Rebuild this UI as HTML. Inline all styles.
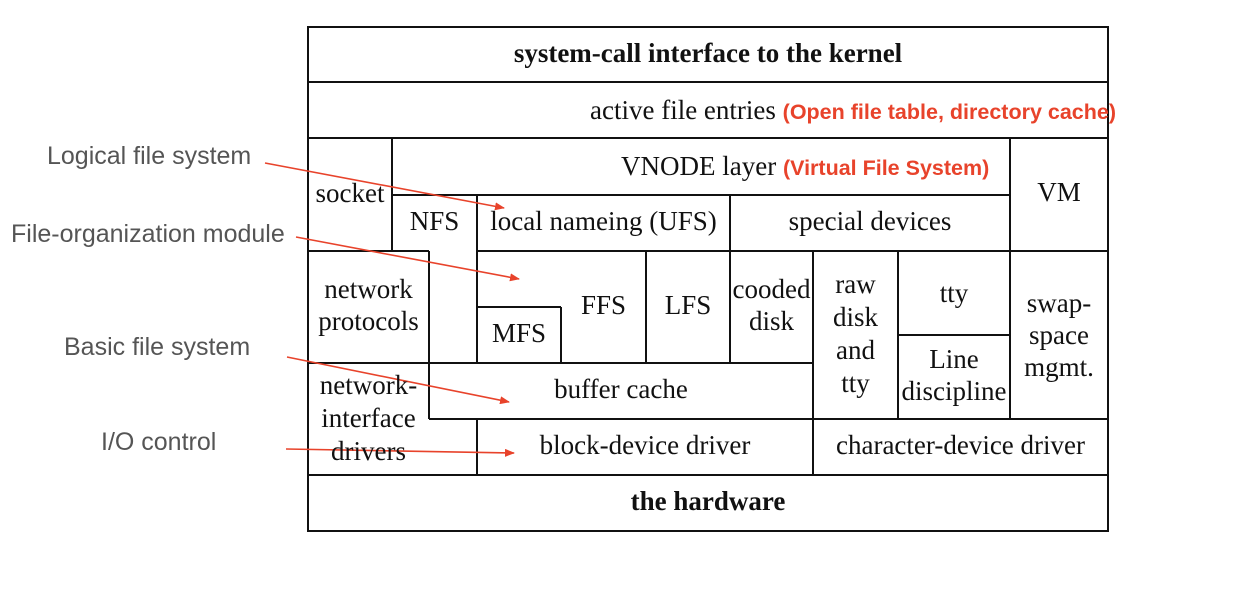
<!DOCTYPE html>
<html><head><style>
body{margin:0;width:1246px;height:596px;background:#fff;overflow:hidden;position:relative}
.t{position:absolute;font-family:"Liberation Serif",serif;font-size:27px;color:#111;text-align:center;line-height:32px;white-space:nowrap}
.l{position:absolute;font-family:"Liberation Sans",sans-serif;font-size:25px;color:#555;white-space:nowrap}
.r{font-family:"Liberation Sans",sans-serif;font-weight:bold;color:#e8432b;font-size:21.5px}
</style></head><body>
<svg width="1246" height="596" style="position:absolute;left:0;top:0">
<g stroke="#111" stroke-width="2" fill="none">
<rect x="308" y="27" width="800" height="504"/>
<line x1="308" y1="82" x2="1108" y2="82"/>
<line x1="308" y1="138" x2="1108" y2="138"/>
<line x1="392" y1="195" x2="1010" y2="195"/>
<line x1="392" y1="138" x2="392" y2="251"/>
<line x1="1010" y1="138" x2="1010" y2="419"/>
<line x1="308" y1="251" x2="429" y2="251"/>
<line x1="477" y1="251" x2="1108" y2="251"/>
<line x1="477" y1="195" x2="477" y2="363"/>
<line x1="730" y1="195" x2="730" y2="363"/>
<line x1="429" y1="251" x2="429" y2="419"/>
<line x1="308" y1="363" x2="429" y2="363"/>
<line x1="429" y1="363" x2="813" y2="363"/>
<line x1="429" y1="419" x2="1108" y2="419"/>
<line x1="477" y1="307" x2="561" y2="307"/>
<line x1="561" y1="307" x2="561" y2="363"/>
<line x1="646" y1="251" x2="646" y2="363"/>
<line x1="813" y1="251" x2="813" y2="475"/>
<line x1="898" y1="251" x2="898" y2="419"/>
<line x1="898" y1="335" x2="1010" y2="335"/>
<line x1="477" y1="419" x2="477" y2="475"/>
<line x1="308" y1="475" x2="1108" y2="475"/>
</g>
<defs><marker id="a" markerWidth="10" markerHeight="8" refX="9" refY="4" orient="auto" markerUnits="userSpaceOnUse"><path d="M0,0L10,4L0,8z" fill="#e8432b"/></marker></defs>
<g stroke="#e8432b" stroke-width="1.6" marker-end="url(#a)">
<line x1="265" y1="163" x2="504" y2="208"/>
<line x1="296" y1="237" x2="519" y2="279"/>
<line x1="287" y1="357" x2="509" y2="402"/>
<line x1="286" y1="449" x2="514" y2="453"/>
</g>
</svg>
<div class="t" style="left:308px;top:37px;width:800px;font-weight:bold">system-call interface to the kernel</div>
<div class="t" style="left:590px;top:94px">active file entries <span class="r">(Open file table, directory cache)</span></div>
<div class="t" style="left:621px;top:150px">VNODE layer <span class="r">(Virtual File System)</span></div>
<div class="t" style="left:308px;top:177px;width:84px">socket</div>
<div class="t" style="left:392px;top:205px;width:85px">NFS</div>
<div class="t" style="left:477px;top:205px;width:253px">local nameing (UFS)</div>
<div class="t" style="left:730px;top:205px;width:280px">special devices</div>
<div class="t" style="left:1010px;top:176px;width:98px">VM</div>
<div class="t" style="left:308px;top:273px;width:121px">network<br>protocols</div>
<div class="t" style="left:477px;top:317px;width:84px">MFS</div>
<div class="t" style="left:561px;top:289px;width:85px">FFS</div>
<div class="t" style="left:646px;top:289px;width:84px">LFS</div>
<div class="t" style="left:730px;top:273px;width:83px">cooded<br>disk</div>
<div class="t" style="left:813px;top:268px;width:85px;line-height:33px">raw<br>disk<br>and<br>tty</div>
<div class="t" style="left:898px;top:277px;width:112px">tty</div>
<div class="t" style="left:898px;top:343px;width:112px">Line<br>discipline</div>
<div class="t" style="left:1010px;top:287px;width:98px">swap-<br>space<br>mgmt.</div>
<div class="t" style="left:429px;top:373px;width:384px">buffer cache</div>
<div class="t" style="left:308px;top:369px;width:121px;line-height:33px">network-<br>interface<br>drivers</div>
<div class="t" style="left:477px;top:429px;width:336px">block-device driver</div>
<div class="t" style="left:813px;top:429px;width:295px">character-device driver</div>
<div class="t" style="left:308px;top:485px;width:800px;font-weight:bold">the hardware</div>
<div class="l" style="left:47px;top:142px">Logical file system</div>
<div class="l" style="left:11px;top:220px">File-organization module</div>
<div class="l" style="left:64px;top:333px">Basic file system</div>
<div class="l" style="left:101px;top:428px">I/O control</div>
</body></html>
